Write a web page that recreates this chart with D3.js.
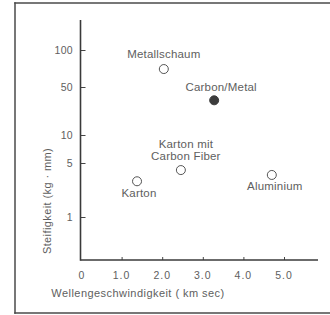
<!DOCTYPE html>
<html><head><meta charset="utf-8">
<script src="https://cdn.jsdelivr.net/npm/d3@7"></script>
<style>
html,body{margin:0;padding:0;background:#fff;overflow:hidden;}
svg{display:block;font-family:"Liberation Sans",Arial,Helvetica,sans-serif;}
</style></head>
<body>
<svg id="chart" width="330" height="315"></svg>
<script>
// Data
const materials = ["Metallschaum", "Carbon/Metal", "Karton", "Karton mit\nCarbon Fiber", "Aluminium"];
const speed = [2.04, 3.28, 1.38, 2.46, 4.7];        // km/sec
const stiffness = [70, 32, 2.9, 4.05, 3.5];        // kg·mm
const filled = [false, true, false, false, false];
const xTicks = [0, 1, 2, 3, 4, 5];
const xTickLabels = ["0", "1.0", "2.0", "3.0", "4.0", "5.0"];
const yTicks = [1, 5, 10, 50, 100];
const yTickLabels = ["1", "5", "10", "50", "100"];
const xTitle = "Wellengeschwindigkeit ( km sec)";
const yTitle = "Steifigkeit (kg · mm)";

const svg = d3.select("#chart");
const textCol = "#5e5e5e";

// frame (top, left, bottom edges; right edge is outside the picture)
const frameCol = "#4a4a4a";
[[15, 3, 330, 3], [15, 3, 15, 313], [15, 313, 330, 313]].forEach(([a, b, c, e]) => {
  svg.append("line").attr("x1", a).attr("y1", b).attr("x2", c).attr("y2", e)
    .attr("stroke", frameCol).attr("stroke-width", 1.5).attr("stroke-linecap", "square");
});

const x = d3.scaleLinear().domain([0, 5]).range([81, 284]);
// axis is drawn on a log-type scale whose decades are unevenly spaced in the original
const y = d3.scaleLog().domain([1, 5, 10, 50, 100]).range([217, 163, 135, 87, 50]);

const x0 = 80.5, yAxisY = 260;

// Y axis
const yAxis = svg.append("g").attr("transform", `translate(${x0},0)`)
  .call(d3.axisRight(y).tickValues(yTicks).tickSize(5).tickFormat(""));
yAxis.select(".domain").remove();
yAxis.selectAll(".tick line").attr("stroke", "#444").attr("stroke-width", 1);
svg.append("line").attr("x1", x0).attr("x2", x0).attr("y1", 20).attr("y2", yAxisY + 0.75)
  .attr("stroke", "#3a3a3a").attr("stroke-width", 1.6);
svg.selectAll(".ylab").data(yTicks).join("text")
  .attr("x", 73).attr("y", d => y(d)).attr("dy", "0.35em")
  .attr("text-anchor", "end").attr("font-size", 10.5).attr("fill", textCol)
  .attr("letter-spacing", 0.3)
  .text((d, i) => yTickLabels[i]);

// X axis
const xAxis = svg.append("g").attr("transform", `translate(0,${yAxisY})`)
  .call(d3.axisTop(x).tickValues(xTicks.filter(d => d > 0)).tickSize(3).tickFormat(""));
xAxis.select(".domain").remove();
xAxis.selectAll(".tick line").attr("stroke", "#444").attr("stroke-width", 1);
svg.append("line").attr("x1", x0).attr("x2", 318).attr("y1", yAxisY).attr("y2", yAxisY)
  .attr("stroke", "#3a3a3a").attr("stroke-width", 1.6);
svg.selectAll(".xlab").data(xTicks).join("text")
  .attr("x", d => x(d) + (d === 0 ? 1 : 0)).attr("y", 275).attr("dy", "0.35em")
  .attr("text-anchor", "middle").attr("font-size", 10.5).attr("fill", textCol)
  .attr("letter-spacing", 1)
  .text((d, i) => xTickLabels[i]);

// titles
svg.append("text").attr("x", 138).attr("y", 293).attr("dy", "0.35em")
  .attr("text-anchor", "middle").attr("font-size", 11).attr("fill", textCol)
  .attr("letter-spacing", 0.45)
  .text(xTitle);
svg.append("text").attr("transform", "translate(47,201) rotate(-90)").attr("dy", "0.35em")
  .attr("text-anchor", "middle").attr("font-size", 11).attr("fill", textCol)
  .attr("letter-spacing", 0.4)
  .text(yTitle);

// points
const pts = materials.map((m, i) => ({ m, vx: speed[i], vy: stiffness[i], f: filled[i] }));
svg.selectAll(".pt").data(pts).join("circle")
  .attr("cx", d => x(d.vx)).attr("cy", d => y(d.vy)).attr("r", 4.5)
  .attr("fill", d => d.f ? "#3c3c3c" : "#fff")
  .attr("stroke", d => d.f ? "#3c3c3c" : "#555").attr("stroke-width", 1);

// labels: offsets relative to the point
const labOff = [[0, -15], [7, -13], [2, 12], [5, -26], [3, 11]];
pts.forEach((d, i) => {
  const lines = d.m.split("\n");
  const t = svg.append("text")
    .attr("x", x(d.vx) + labOff[i][0]).attr("y", y(d.vy) + labOff[i][1])
    .attr("text-anchor", "middle").attr("font-size", 11.5).attr("fill", textCol)
    .attr("letter-spacing", 0.2);
  lines.forEach((l, k) => {
    t.append("tspan").attr("x", x(d.vx) + labOff[i][0])
      .attr("dy", k === 0 ? "0.35em" : "1.0em").text(l);
  });
});
</script>
</body></html>
